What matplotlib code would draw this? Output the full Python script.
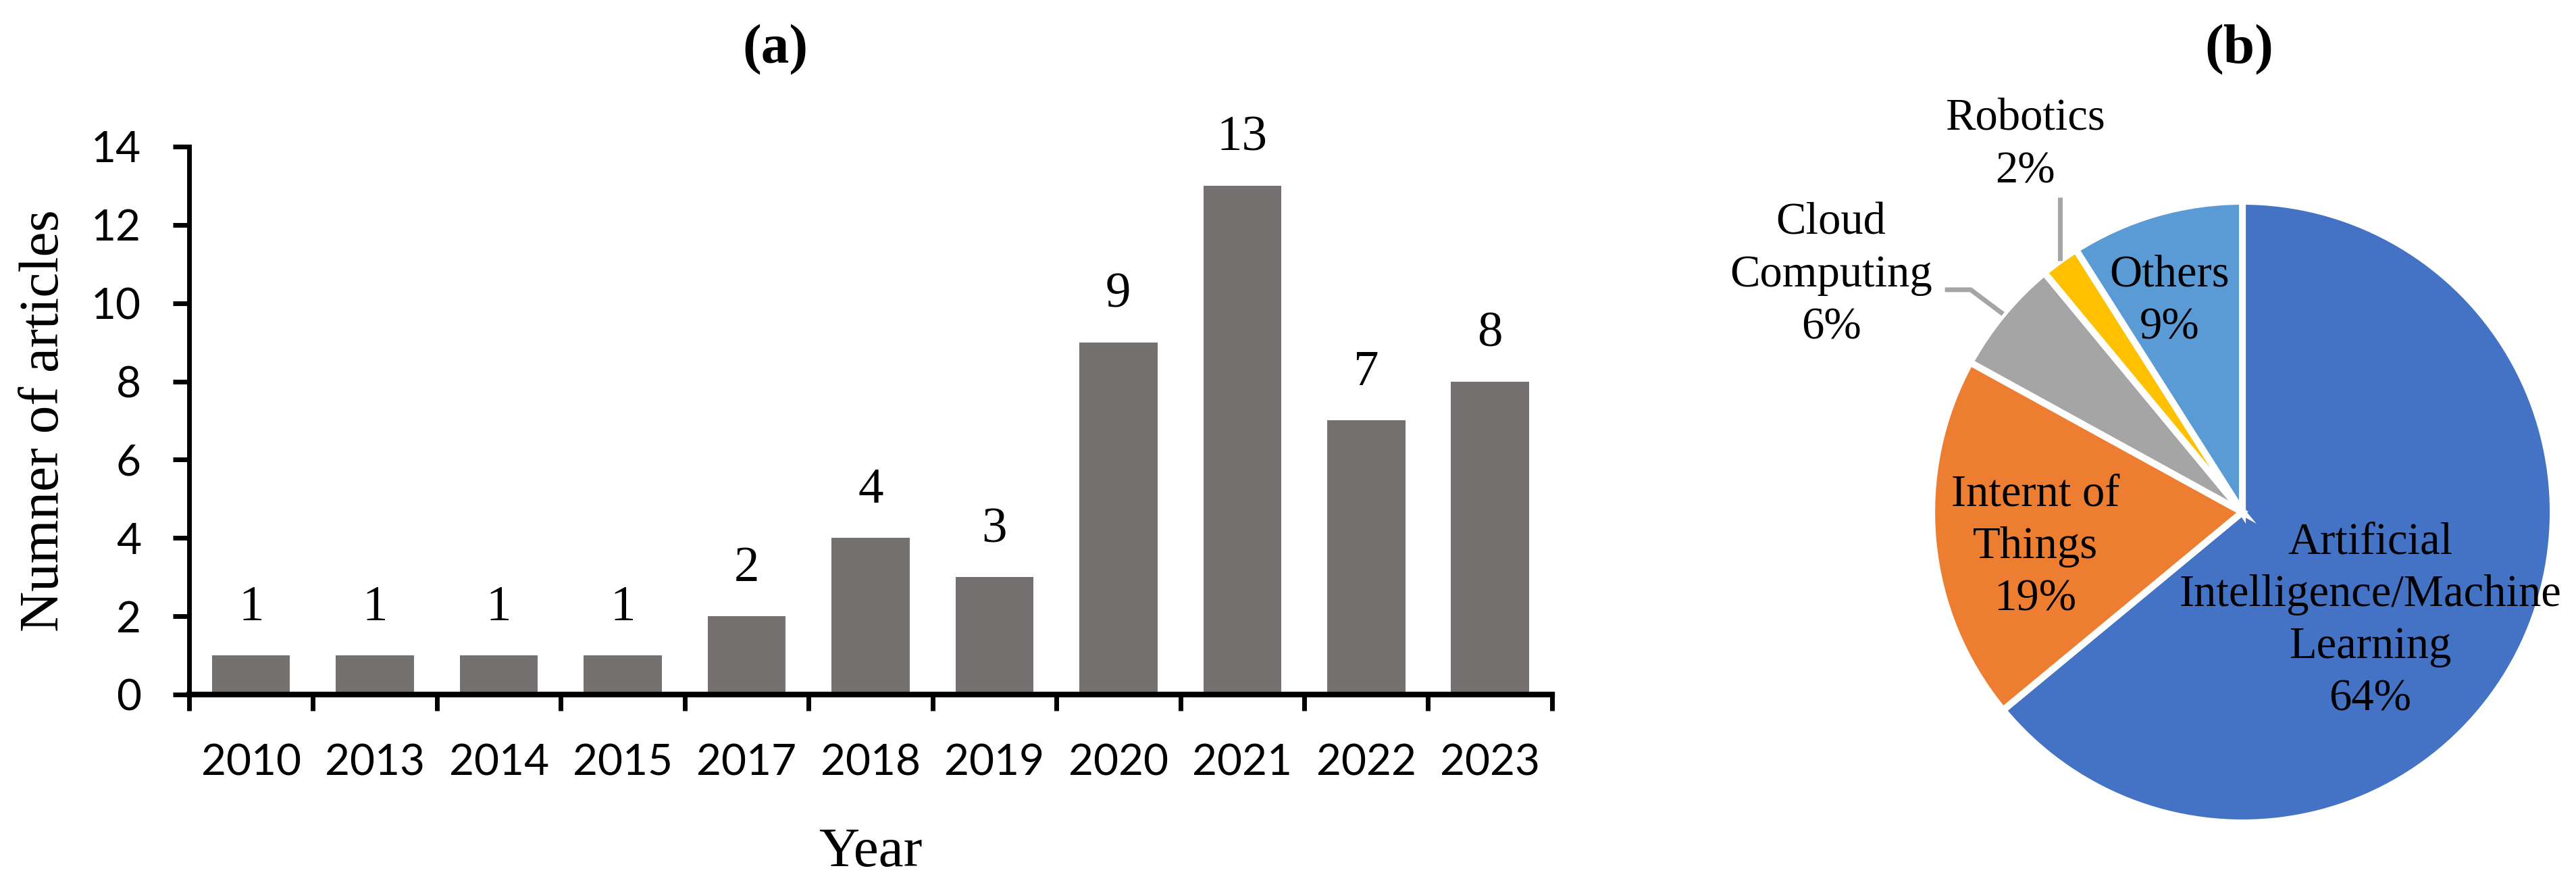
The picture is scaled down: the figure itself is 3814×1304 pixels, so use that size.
import matplotlib.pyplot as plt
import numpy as np

# bar chart (a)
years = ['2010', '2013', '2014', '2015', '2017', '2018', '2019',
         '2020', '2021', '2022', '2023']
articles = [1, 1, 1, 1, 2, 4, 3, 9, 13, 7, 8]

# pie chart (b)
topics = ['Artificial\nIntelligence/Machine\nLearning', 'Internt of\nThings',
          'Cloud\nComputing', 'Robotics', 'Others']
shares = [64, 19, 6, 2, 9]
pie_colors = ['#4472C4', '#ED7D31', '#A5A5A5', '#FFC000', '#5B9BD5']

SERIF = 'Liberation Serif'
SANS = 'Lato'

fig = plt.figure(figsize=(19.07, 6.52), dpi=200)

# ---- (a) bars ----
ax = fig.add_axes([0.0734, 0.2117, 0.5291, 0.6219])
x = np.arange(len(years))
bars = ax.bar(x, articles, width=0.63, color='#767171')
ax.set_xlim(-0.5, len(years) - 0.5)
ax.set_ylim(0, 14)
ax.set_yticks(range(0, 15, 2))
bounds = np.arange(-0.5, len(years))
ax.set_xticks(bounds, labels=[''] * len(bounds))
ax.set_xticks(x, labels=years, minor=True)
ax.tick_params(axis='x', which='major', length=8.6, width=2.5, direction='out')
ax.tick_params(axis='x', which='minor', length=0, pad=26)
ax.tick_params(axis='y', length=8.6, width=2.5, pad=17)
for lab in ax.get_xticklabels(minor=True) + ax.get_yticklabels():
    lab.set_fontfamily(SANS)
    lab.set_fontsize(23)
ax.spines['top'].set_visible(False)
ax.spines['right'].set_visible(False)
ax.spines['left'].set_linewidth(2.5)
ax.spines['bottom'].set_linewidth(3.0)

ax.bar_label(bars, padding=13, fontsize=27, family=SERIF)
ax.set_ylabel('Numner of articles', fontsize=30, family=SERIF, labelpad=11)
ax.set_xlabel('Year', fontsize=30, family=SERIF, labelpad=24)

fig.text(0.301, 0.9287, '(a)', ha='center', va='baseline', fontsize=30,
         fontweight='bold', family=SERIF)

# ---- (b) pie ----
ax2 = fig.add_axes([0.7499, 0.0660, 0.2412, 0.7055])
wedges, _ = ax2.pie(shares, colors=pie_colors, startangle=90, counterclock=False,
                    wedgeprops=dict(edgecolor='white', linewidth=3.6))
ax2.set_xlim(-1, 1)
ax2.set_ylim(-1, 1)

label_xy = [(0.411, -0.350), (-0.667, -0.113), (-1.324, 0.761),
            (-0.700, 1.180), (-0.235, 0.678)]
for topic, share, (lx, ly) in zip(topics, shares, label_xy):
    ax2.text(lx, ly, f'{topic}\n{share}%', ha='center', va='center',
             fontsize=24, family=SERIF, linespacing=1.35, clip_on=False)

# leader lines for the two small outside labels
def mid_point(w, r=1.0):
    a = np.deg2rad((w.theta1 + w.theta2) / 2)
    return r * np.cos(a), r * np.sin(a)

cx, cy = mid_point(wedges[2])
ax2.plot([cx - 0.187, cx - 0.104, cx], [cy + 0.078, cy + 0.078, cy],
         color='#A5A5A5', lw=2.5, clip_on=False, solid_capstyle='butt')
rx, ry = mid_point(wedges[3])
ax2.plot([rx, rx], [ry, 1.013], color='#A5A5A5', lw=2.5, clip_on=False,
         solid_capstyle='butt')

fig.text(0.8692, 0.9287, '(b)', ha='center', va='baseline', fontsize=30,
         fontweight='bold', family=SERIF)

fig.savefig('out.png', dpi=200, facecolor='white')
